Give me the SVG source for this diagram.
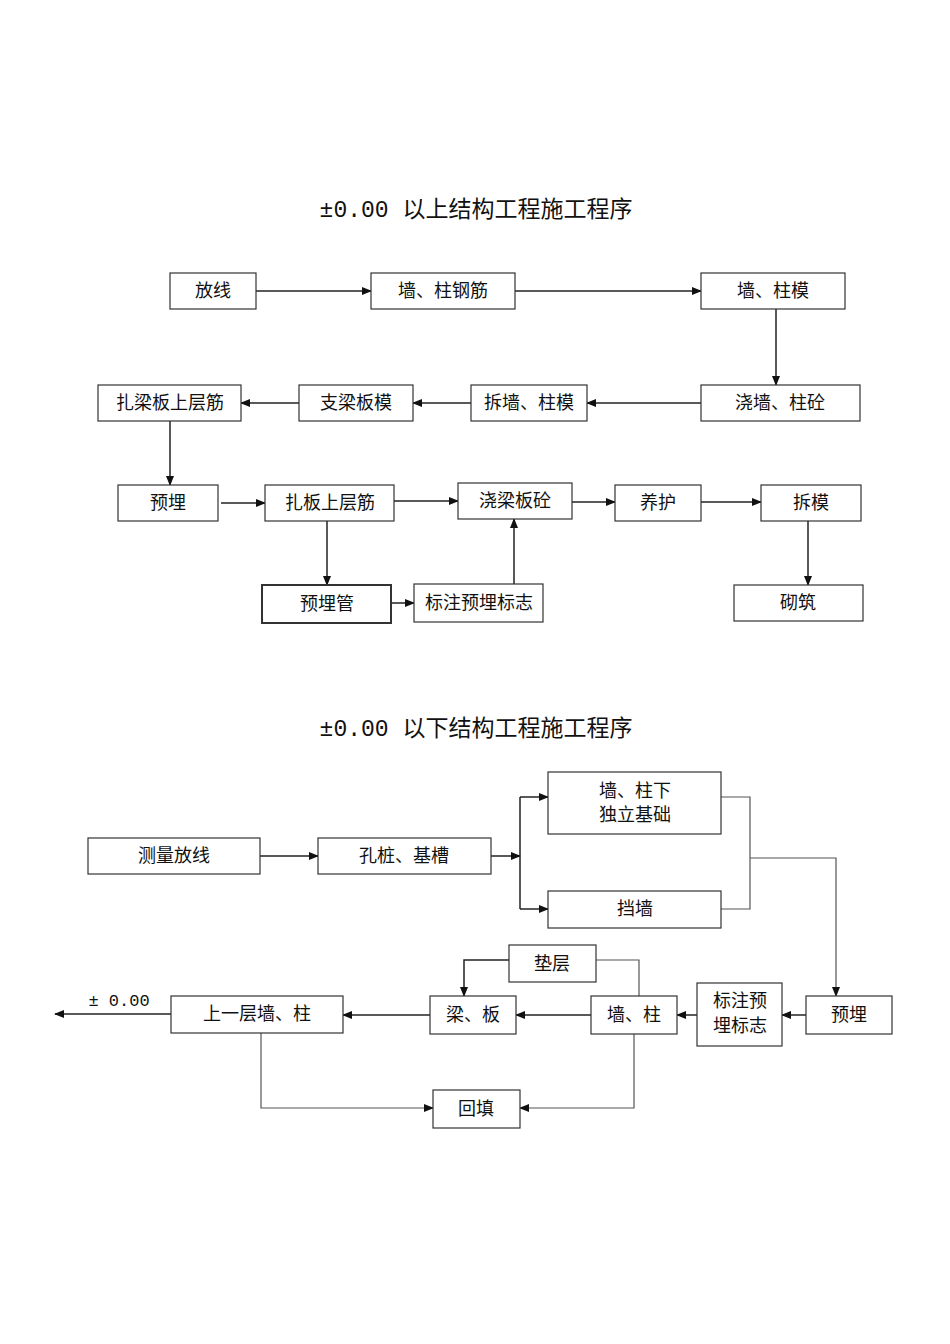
<svg xmlns="http://www.w3.org/2000/svg" width="950" height="1344" viewBox="0 0 950 1344">
<style>
rect{fill:#fff;stroke:#333;stroke-width:1.2}
text{font-family:"Liberation Serif","Noto Sans CJK SC",serif;font-size:18px;fill:#111;text-anchor:middle}
.t{font-family:"Liberation Mono","Noto Sans CJK SC",monospace;font-size:23px}
.c line,.c polyline{stroke:#222;stroke-width:1.5;fill:none}
.g{stroke:#555!important;stroke-width:1.2!important}
</style>
<defs><marker id="a" markerWidth="10" markerHeight="8" refX="9" refY="4" orient="auto" markerUnits="userSpaceOnUse"><path d="M0,0L10,4L0,8z" fill="#111"/></marker></defs>
<rect width="950" height="1344" style="fill:#fff;stroke:none"/>
<text class="t" x="476" y="217">±0.00 以上结构工程施工程序</text>
<text class="t" x="476" y="736">±0.00 以下结构工程施工程序</text>
<g class="c">
<line x1="256" y1="291" x2="371" y2="291" marker-end="url(#a)"/>
<line x1="515" y1="291" x2="701" y2="291" marker-end="url(#a)"/>
<line x1="776" y1="309" x2="776" y2="385" marker-end="url(#a)"/>
<line x1="701" y1="403" x2="587" y2="403" marker-end="url(#a)"/>
<line x1="471" y1="403" x2="413" y2="403" marker-end="url(#a)"/>
<line x1="299" y1="403" x2="241" y2="403" marker-end="url(#a)"/>
<line x1="170" y1="421" x2="170" y2="485" marker-end="url(#a)"/>
<line x1="221" y1="503" x2="265" y2="503" marker-end="url(#a)"/>
<line x1="394" y1="501" x2="458" y2="501" marker-end="url(#a)"/>
<line x1="572" y1="502" x2="615" y2="502" marker-end="url(#a)"/>
<line x1="701" y1="502" x2="761" y2="502" marker-end="url(#a)"/>
<line x1="808" y1="521" x2="808" y2="585" marker-end="url(#a)"/>
<line x1="327" y1="521" x2="327" y2="585" marker-end="url(#a)"/>
<line x1="391" y1="603" x2="414" y2="603" marker-end="url(#a)"/>
<line x1="514" y1="584" x2="514" y2="519" marker-end="url(#a)"/>
<line x1="260" y1="856" x2="318" y2="856" marker-end="url(#a)"/>
<line x1="491" y1="856" x2="520" y2="856" marker-end="url(#a)"/>
<line x1="520" y1="797" x2="520" y2="909"/>
<line x1="520" y1="797" x2="548" y2="797" marker-end="url(#a)"/>
<line x1="520" y1="909" x2="548" y2="909" marker-end="url(#a)"/>
<polyline class="g" points="721,797 750,797 750,909 721,909"/>
<polyline class="g" points="750,858 836,858 836,996" marker-end="url(#a)"/>
<line x1="806" y1="1015" x2="782" y2="1015" marker-end="url(#a)"/>
<line x1="697" y1="1015" x2="677" y2="1015" marker-end="url(#a)"/>
<line x1="591" y1="1015" x2="516" y2="1015" marker-end="url(#a)"/>
<line x1="430" y1="1015" x2="343" y2="1015" marker-end="url(#a)"/>
<line x1="171" y1="1014" x2="55" y2="1014" marker-end="url(#a)"/>
<polyline points="509,960 464,960 464,996" marker-end="url(#a)"/>
<polyline class="g" points="596,960 639,960 639,996"/>
<polyline class="g" points="261,1033 261,1108 433,1108" marker-end="url(#a)"/>
<polyline class="g" points="634,1034 634,1108 520,1108" marker-end="url(#a)"/>
</g>
<g id="n1"><rect x="170" y="273" width="86" height="36"/><text x="213" y="297">放线</text></g>
<g id="n2"><rect x="371" y="273" width="144" height="36"/><text x="443" y="297">墙、柱钢筋</text></g>
<g id="n3"><rect x="701" y="273" width="144" height="36"/><text x="773" y="297">墙、柱模</text></g>
<g id="n4"><rect x="701" y="385" width="159" height="36"/><text x="780" y="409">浇墙、柱砼</text></g>
<g id="n5"><rect x="471" y="385" width="116" height="36"/><text x="529" y="409">拆墙、柱模</text></g>
<g id="n6"><rect x="299" y="385" width="114" height="36"/><text x="356" y="409">支梁板模</text></g>
<g id="n7"><rect x="98" y="385" width="143" height="36"/><text x="170" y="409">扎梁板上层筋</text></g>
<g id="n8"><rect x="118" y="485" width="100" height="36"/><text x="168" y="509">预埋</text></g>
<g id="n9"><rect x="265" y="485" width="129" height="36"/><text x="330" y="509">扎板上层筋</text></g>
<g id="n10"><rect x="458" y="483" width="114" height="36"/><text x="515" y="507">浇梁板砼</text></g>
<g id="n11"><rect x="615" y="485" width="86" height="36"/><text x="658" y="509">养护</text></g>
<g id="n12"><rect x="761" y="485" width="100" height="36"/><text x="811" y="509">拆模</text></g>
<g id="n13"><rect x="734" y="585" width="129" height="36"/><text x="798" y="609">砌筑</text></g>
<g id="n14"><rect x="262" y="585" width="129" height="38" style="stroke-width:2"/><text x="327" y="610">预埋管</text></g>
<g id="n15"><rect x="414" y="584" width="129" height="38"/><text x="479" y="609">标注预埋标志</text></g>
<g id="m1"><rect x="88" y="838" width="172" height="36"/><text x="174" y="862">测量放线</text></g>
<g id="m2"><rect x="318" y="838" width="173" height="36"/><text x="404" y="862">孔桩、基槽</text></g>
<g id="m3"><rect x="548" y="772" width="173" height="62"/><text x="635" y="797">墙、柱下</text><text x="635" y="821">独立基础</text></g>
<g id="m4"><rect x="548" y="891" width="173" height="37"/><text x="635" y="915">挡墙</text></g>
<g id="m5"><rect x="806" y="996" width="86" height="38"/><text x="849" y="1021">预埋</text></g>
<g id="m6"><rect x="697" y="983" width="85" height="63"/><text x="740" y="1007">标注预</text><text x="740" y="1032">埋标志</text></g>
<g id="m7"><rect x="591" y="996" width="86" height="38"/><text x="634" y="1021">墙、柱</text></g>
<g id="m8"><rect x="509" y="945" width="87" height="37"/><text x="552" y="970">垫层</text></g>
<g id="m9"><rect x="430" y="996" width="86" height="38"/><text x="473" y="1021">梁、板</text></g>
<g id="m10"><rect x="171" y="996" width="172" height="37"/><text x="257" y="1020">上一层墙、柱</text></g>
<g id="m11"><rect x="433" y="1090" width="87" height="38"/><text x="476" y="1115">回填</text></g>
<text x="119" y="1006" style="font-family:'Liberation Mono','Noto Sans CJK SC',monospace;font-size:17px">± 0.00</text>
</svg>
